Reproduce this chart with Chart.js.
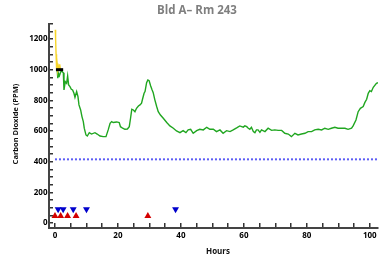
<!DOCTYPE html>
<html>
<head>
<meta charset="utf-8">
<script src="https://cdn.jsdelivr.net/npm/chart.js@4"></script>
<style>
  html, body { margin: 0; padding: 0; background: #fff; }
  #wrap { width: 379px; height: 260px; }
</style>
</head>
<body>
<div id="wrap"><canvas id="chart"></canvas></div>
<script>
const chartTitle = 'Bld A\u2013 Rm 243';
const yTitle = 'Carbon Dioxide (PPM)';
const xTitle = 'Hours';

// green CO2 trace
const greenHours = [0.7, 0.9, 1.1, 1.4, 1.8, 2.2, 2.65, 2.86, 3.28, 3.7, 4.02, 4.34, 4.76, 5.19, 5.6, 6.03, 6.35, 6.88, 7.3, 7.62,
  8.15, 8.57, 9.0, 9.3, 9.84, 10.26, 10.9, 11.6, 12.7, 13.4, 14.3, 15.3, 16.2, 16.9, 17.5, 18.0, 18.5, 19.6, 20.4, 20.8,
  21.5, 22.2, 23.0, 23.6, 24.0, 24.4, 24.9, 25.4, 25.9, 26.5, 27.0, 27.5, 27.8, 28.3, 28.6, 29.1, 29.5, 29.9, 30.4, 30.8,
  31.2, 31.7, 32.3, 32.8, 33.5, 34.4, 35.5, 36.5, 37.6, 38.6, 39.7, 40.7, 41.6, 42.3, 43.1, 43.9, 45.0, 46.0, 47.1, 48.2,
  49.2, 50.3, 51.3, 52.4, 53.4, 54.5, 55.6, 56.6, 57.7, 58.7, 59.8, 60.3, 60.9, 61.4, 61.9, 62.4, 63.0, 63.5, 64.0, 64.5,
  65.1, 65.6, 66.7, 67.7, 68.8, 69.8, 70.9, 72.0, 73.0, 74.1, 75.1, 76.2, 77.2, 78.3, 79.4, 80.4, 81.5, 82.5, 83.6, 84.7,
  85.7, 86.8, 87.8, 88.9, 89.9, 91.0, 92.1, 93.1, 94.2, 94.7, 95.6, 96.3, 97.0, 97.9, 98.4, 99.0, 99.5, 100.0, 100.5, 101.1,
  102.1, 102.6];
const greenPpm = [1000, 945, 975, 960, 985, 990, 980, 868, 922, 911, 959, 900, 889, 872, 868, 846, 820, 857, 824, 770,
  737, 694, 661, 618, 574, 567, 589, 580, 589, 580, 567, 563, 563, 607, 650, 661, 655, 659, 655, 628,
  618, 611, 613, 628, 683, 742, 737, 726, 748, 763, 770, 781, 807, 846, 857, 915, 933, 928, 894, 870,
  850, 805, 760, 726, 704, 683, 655, 633, 618, 600, 589, 602, 589, 607, 611, 585, 602, 611, 607, 624,
  611, 611, 596, 607, 585, 602, 596, 607, 620, 633, 625, 633, 628, 618, 611, 624, 596, 589, 607, 607,
  591, 607, 596, 618, 604, 607, 604, 604, 585, 580, 563, 585, 574, 580, 585, 596, 596, 607, 611, 607,
  618, 611, 618, 624, 618, 618, 618, 611, 618, 633, 672, 726, 748, 759, 785, 807, 846, 863, 857, 885,
  911, 915];

// yellow start-up trace
const yellowHours = [0.1, 0.2, 0.35, 0.5, 0.7, 0.9, 1.1, 1.3, 1.5, 1.7];
const yellowPpm = [1260, 1200, 1100, 1010, 1040, 1000, 1020, 1000, 1035, 1005];

// black marker segment
const blackHours = [0.3, 2.6];
const blackPpm = [1000, 1000];

// outdoor reference (dashed)
const refHours = [0, 102.6];
const refPpm = [415, 415];

// event markers
const redHours = [0, 1.8, 4, 6.7, 29.5];
const redPpm = [45, 45, 45, 45, 45];
const blueHours = [1.0, 2.6, 5.8, 10, 38.3];
const bluePpm = [90, 90, 90, 90, 90];

const yTicks = [];
for (let v = 0; v <= 1300; v += 50) yTicks.push(v);
const xTicks = [];
for (let v = 0; v <= 100; v += 5) xTicks.push(v);

const pts = (xs, ys) => xs.map((x, i) => ({ x: x, y: ys[i] }));

const textPlugin = {
  id: 'texts',
  afterDraw(chart) {
    const ctx = chart.ctx;
    ctx.save();
    ctx.textAlign = 'center';
    ctx.textBaseline = 'middle';
    ctx.fillStyle = '#7f7f7f';
    ctx.font = 'bold 11.5px "Open Sans"';
    ctx.fillText(chartTitle, 197, 11);
    ctx.fillStyle = '#111';
    ctx.font = 'bold 8px "Open Sans"';
    ctx.fillText(xTitle, 218, 252);
    ctx.translate(15.5, 124);
    ctx.rotate(-Math.PI / 2);
    ctx.font = 'bold 7.5px "Open Sans"';
    ctx.fillText(yTitle, 0, 0);
    ctx.restore();
  }
};

new Chart(document.getElementById('chart'), {
  type: 'line',
  data: {
    datasets: [
      { data: pts(blackHours, blackPpm), borderColor: '#000', borderWidth: 3, pointRadius: 0 },
      { data: pts(redHours, redPpm), showLine: false, pointStyle: 'triangle', pointRadius: 4,
        backgroundColor: '#d40000', borderColor: '#d40000', borderWidth: 0 },
      { data: pts(blueHours, bluePpm), showLine: false, pointStyle: 'triangle', pointRotation: 180, pointRadius: 4,
        backgroundColor: '#0000cc', borderColor: '#0000cc', borderWidth: 0 },
      { data: pts(yellowHours, yellowPpm), borderColor: '#f7d52a', borderWidth: 1.4, pointRadius: 0 },
      { data: pts(greenHours, greenPpm), borderColor: '#20a620', borderWidth: 1.4, pointRadius: 0 },
      { data: pts(refHours, refPpm), borderColor: '#5c5cf5', borderWidth: 2, borderDash: [2, 2], pointRadius: 0 }
    ]
  },
  options: {
    responsive: true,
    maintainAspectRatio: false,
    animation: false,
    layout: { autoPadding: false, padding: { left: 0, top: 24, right: 1, bottom: 0 } },
    plugins: {
      legend: { display: false },
      tooltip: { enabled: false }
    },
    elements: { line: { tension: 0 } },
    scales: {
      x: {
        type: 'linear',
        min: -1.9,
        max: 102.6,
        afterBuildTicks: (axis) => { axis.ticks = xTicks.map(v => ({ value: v })); },
        afterFit: (axis) => { axis.height = 32; axis.paddingLeft = 0; axis.paddingRight = 0; },
        grid: { drawOnChartArea: false, drawTicks: true, tickLength: -5, color: '#333', lineWidth: 1.5 },
        border: { display: true, color: '#444', width: 2 },
        ticks: {
          padding: 8,
          color: '#000',
          font: { family: 'Open Sans', size: 8, weight: 'bold' },
          autoSkip: false,
          maxRotation: 0,
          callback: (v) => (v % 20 === 0 ? v : '')
        }
      },
      y: {
        min: -33,
        max: 1298,
        afterBuildTicks: (axis) => { axis.ticks = yTicks.map(v => ({ value: v })); },
        afterFit: (axis) => { axis.width = 49; axis.paddingTop = 0; axis.paddingBottom = 0; },
        grid: { drawOnChartArea: false, drawTicks: true, tickLength: -4, color: '#333', lineWidth: 1.5 },
        border: { display: true, color: '#444', width: 2 },
        ticks: {
          padding: 5.5,
          color: '#000',
          font: { family: 'Open Sans', size: 8, weight: 'bold' },
          autoSkip: false,
          callback: (v) => (v % 200 === 0 ? v : '')
        }
      }
    }
  },
  plugins: [textPlugin]
});
</script>
</body>
</html>
